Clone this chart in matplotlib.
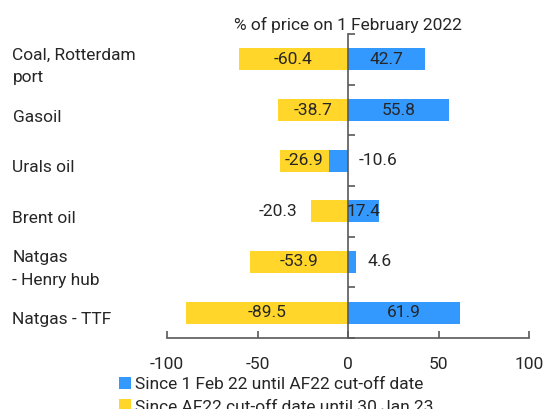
import numpy as np
import matplotlib
matplotlib.use("Agg")
import matplotlib.pyplot as plt
import matplotlib.transforms as mtransforms
from matplotlib.patches import Patch

categories = ["Coal, Rotterdam\nport", "Gasoil", "Urals oil", "Brent oil",
              "Natgas\n- Henry hub", "Natgas - TTF"]
since_feb = [42.7, 55.8, -10.6, 17.4, 4.6, 61.9]
since_cutoff = [-60.4, -38.7, -26.9, -20.3, -53.9, -89.5]
series_names = ["Since 1 Feb 22 until AF22 cut-off date",
                "Since AF22 cut-off date until 30 Jan 23"]
x_ticks = [-100, -50, 0, 50, 100]
title = "% of price on 1 February 2022"

# where each value label sits (style, not data)
blue_label_pos = ["center", "center", "right", "center", "right", "center"]
yellow_label_pos = ["center", "center", "center", "left", "center", "center"]

BLUE = "#3399FF"
YELLOW = "#FFD629"
TXT = "#262626"
AXC = "#595959"

plt.rcParams["font.family"] = ["Roboto", "DejaVu Sans"]
plt.rcParams["font.size"] = 12.5

fig = plt.figure(figsize=(5.45, 4.09), dpi=100)
ax = fig.add_axes([167 / 545, 71 / 409, 362 / 545, 304 / 409])

y = np.arange(len(categories))
blue = np.array(since_feb)
yellow = np.array(since_cutoff)
# negatives stack on negatives, positives on positives
yellow_left = np.where(np.sign(blue) == np.sign(yellow), blue, 0)

h = 0.43
ax.barh(y, blue, height=h, color=BLUE, edgecolor="none")
ax.barh(y, yellow, left=yellow_left, height=h, color=YELLOW, edgecolor="none")

ax.set_xlim(-100, 100)
ax.set_ylim(len(categories) - 0.5, -0.5)

for spine in ["top", "right"]:
    ax.spines[spine].set_visible(False)
ax.spines["left"].set_position(("data", 0))
ax.spines["left"].set_color(AXC)
ax.spines["bottom"].set_color(AXC)
ax.spines["left"].set_linewidth(1.2)
ax.spines["bottom"].set_linewidth(1.2)

ax.set_yticks(np.arange(-0.5, len(categories), 1))
ax.set_yticklabels([])
ax.tick_params(axis="y", direction="in", length=5, width=1.2, color=AXC)
ax.set_xticks(x_ticks)
ax.set_xticklabels([str(t) for t in x_ticks])
ax.tick_params(axis="x", direction="in", length=5, width=1.2, color=AXC,
               pad=14, labelcolor=TXT)

ax.set_title(title, color=TXT, pad=3, fontsize=12.5)


def put_label(val, left, yy, mode):
    lo, hi = sorted([left, left + val])
    txt = f"{val:.1f}"
    if mode == "center":
        ax.text((lo + hi) / 2, yy, txt, ha="center", va="center", color=TXT)
    elif mode == "right":
        ax.annotate(txt, (max(hi, 0), yy), xytext=(8, 0), textcoords="offset points",
                    ha="left", va="center", color=TXT)
    else:
        ax.annotate(txt, (lo, yy), xytext=(-10, 0), textcoords="offset points",
                    ha="right", va="center", color=TXT)


for i in range(len(categories)):
    put_label(blue[i], 0, y[i], blue_label_pos[i])
    put_label(yellow[i], yellow_left[i], y[i], yellow_label_pos[i])

trans = mtransforms.blended_transform_factory(fig.transFigure, ax.transData)
trans = mtransforms.offset_copy(trans, fig=fig, y=-7, units="dots")
for i, lab in enumerate(categories):
    ax.text(12.5 / 545, y[i], lab, transform=trans, ha="left", va="center",
            color=TXT, linespacing=1.6)

handles = [Patch(facecolor=BLUE), Patch(facecolor=YELLOW)]
fig.legend(handles, series_names, loc="upper left",
           bbox_to_anchor=(119 / 545, 1 - 377 / 409), frameon=False,
           borderpad=0, borderaxespad=0, handlelength=0.7, handleheight=0.7,
           handletextpad=0.2, labelspacing=0.42, labelcolor=TXT)

fig.savefig("out.png", dpi=100)
